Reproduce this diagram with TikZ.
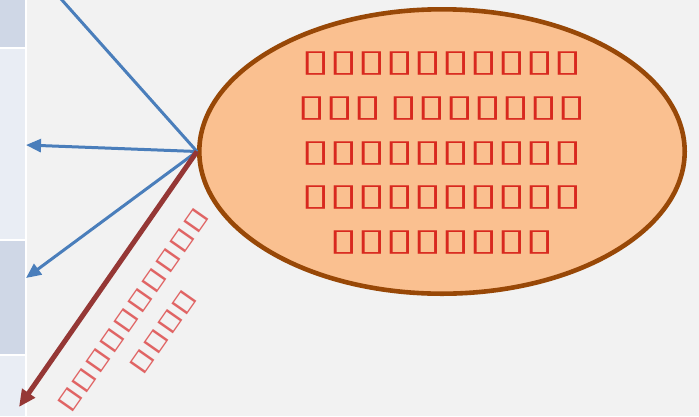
\documentclass[tikz,border=0pt]{standalone}
\usepackage{fontspec}
\newfontfamily\boxfont[FakeStretch=1.70,LetterSpace=-2.3]{DejaVu Sans}
\newfontfamily\diagfont[FakeStretch=1.83,LetterSpace=-2.4]{DejaVu Sans}
\usetikzlibrary{arrows.meta,shapes.geometric}
\definecolor{bg}{HTML}{F2F2F2}
\definecolor{rowdark}{HTML}{CFD7E6}
\definecolor{rowlight}{HTML}{E9EDF4}
\definecolor{peach}{HTML}{FAC090}
\definecolor{brownline}{HTML}{984807}
\definecolor{conblue}{HTML}{4A7EBB}
\definecolor{conred}{HTML}{953735}
\definecolor{boxred}{HTML}{D8281E}
\definecolor{lightred}{HTML}{E06464}
\tikzset{
  bluecon/.style={draw=conblue, line width=3pt, -{Triangle[length=15pt,width=13pt]}},
  bluelink/.style={draw=conblue, line width=3pt},
  redcon/.style={draw=conred, line width=5pt, -{Triangle[length=17pt,width=15pt]}},
  idea/.style={ellipse, draw=brownline, line width=4.6pt, fill=peach, minimum width=485.4pt, minimum height=284.4pt, inner sep=0pt},
  ovalline/.style={text=boxred, font=\boxfont\fontsize{30.7}{44.6}\selectfont, anchor=base, inner sep=0pt},
  diagline/.style={text=lightred, font=\diagfont\fontsize{24.7}{37}\selectfont, anchor=base, inner sep=0pt, rotate=55},
}
\begin{document}
\begin{tikzpicture}[x=1pt,y=-1pt]
\useasboundingbox (0,0) rectangle (699,416);
\clip (0,0) rectangle (699,416);
\fill[bg] (0,0) rectangle (699,416);
\fill[white] (0,0) rectangle (27,416);
\fill[rowdark] (0,0) rectangle (25,46.5);
\fill[rowlight] (0,48.5) rectangle (25,239);
\fill[rowdark] (0,241) rectangle (25,354);
\fill[rowlight] (0,356) rectangle (25,416);
\node[idea] (oval) at (442,151.5) {};
\node[ovalline] (l1) at (442,71.9) {▯▯▯▯▯▯▯▯▯▯};
\node[ovalline] (l2) at (442,116.5) {▯▯▯\hspace{-9pt} ▯▯▯▯▯▯▯};
\node[ovalline] (l3) at (442,161.3) {▯▯▯▯▯▯▯▯▯▯};
\node[ovalline] (l4) at (442,205.8) {▯▯▯▯▯▯▯▯▯▯};
\node[ovalline] (l5) at (442,250.1) {▯▯▯▯▯▯▯▯};
\coordinate (top) at (57.5,-5);
\coordinate (tipA) at (26,145);
\coordinate (tipB) at (26,278);
\coordinate (tipC) at (19,407);
\draw[bluelink] (oval.west) -- (top);
\draw[bluecon] (oval.west) -- (tipA);
\draw[bluecon] (oval.west) -- (tipB);
\draw[redcon] (oval.west) -- (tipC);
\node[diagline] (d1) at (138.8,314.2) {▯▯▯▯▯▯▯▯▯▯};
\node[diagline] (d2) at (168.8,335.7) {▯▯▯▯};
\end{tikzpicture}
\end{document}
